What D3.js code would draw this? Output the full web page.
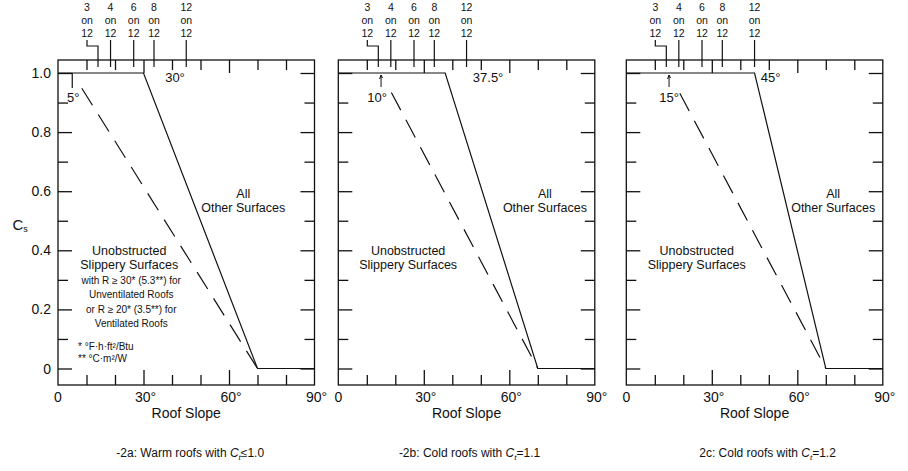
<!DOCTYPE html>
<html>
<head>
<meta charset="utf-8">
<script src="https://cdn.jsdelivr.net/npm/d3@7"></script>
<style>
body { margin: 0; background: #fff; }
text { font-family: "Liberation Sans", Arial, sans-serif; fill: #111; }
</style>
</head>
<body>
<svg id="chart" width="908" height="471"></svg>
<script>
// chart data
const panelIds = ["2a", "2b", "2c"];
const solidBreak = [30, 37.5, 45];        // Cs = 1.0 up to this slope, all other surfaces
const dashedBreak = [5, 15, 15];          // start of the slippery-surface dashed line
const dashedLabel = ["5°", "10°", "15°"];
const breakLabel = ["30°", "37.5°", "45°"];
const zeroSlope = 70;                     // Cs reaches 0 here
const captionText = ["-2a: Warm roofs with ", "-2b: Cold roofs with ", "2c: Cold roofs with "];
const ctText = ["≤1.0", "=1.1", "=1.2"];
const pitchRise = [3, 4, 6, 8, 12];       // "x on 12" pitches on the top axis
const yTickLabels = [0, 0.2, 0.4, 0.6, 0.8, 1.0];
const xTickLabels = [0, 30, 60, 90];
const slipperyNotes = ["with R ≥ 30* (5.3**) for", "Unventilated Roofs", "or R ≥ 20* (3.5**) for", "Ventilated Roofs"];
const footNotes = ["* °F·h·ft²/Btu", "** °C·m²/W"];

// layout
const panelLeft = [58, 338.3, 626.3];
const panelW = 256.5, boxTop = 60, boxBottom = 385;
const breakLabelAt = [37.6, 47.2, 47.2];
const otherAt = [65, 72.5, 72.6];
const slipperyAt = [25, 24.5, 24.7];
const captionShift = [4, 3, 13];
const dashGap = [18, 22, 23];
const dashedLabelShift = [1, -4, 0];
const ink = "#111";

const svg = d3.select("#chart");
const y = d3.scaleLinear().domain([0, 1]).range([368.5, 73]);

function styleTicks(sel) {
    sel.select(".domain").remove();
    sel.selectAll("line").attr("stroke", ink).attr("stroke-width", 1.3);
}

panelIds.forEach((id, i) => {
    const x = d3.scaleLinear().domain([0, 90]).range([panelLeft[i], panelLeft[i] + panelW]);
    const g = svg.append("g").attr("class", "panel-" + id);
    const cx = (x(0) + x(90)) / 2;

    // frame
    g.append("rect")
        .attr("x", x(0)).attr("y", boxTop)
        .attr("width", panelW).attr("height", boxBottom - boxTop)
        .attr("fill", "none").attr("stroke", ink).attr("stroke-width", 1.3);

    const degTicks = d3.range(10, 90, 10);
    // top ticks
    g.append("g")
        .attr("transform", `translate(0,${boxTop})`)
        .call(d3.axisBottom(x).tickValues(degTicks).tickSize(10).tickFormat(""))
        .call(styleTicks)
        .selectAll("line").attr("y2", d => d % 30 === 0 ? 13 : 10);
    // bottom ticks
    g.append("g")
        .attr("transform", `translate(0,${boxBottom})`)
        .call(d3.axisTop(x).tickValues(degTicks).tickSize(10).tickFormat(""))
        .call(styleTicks)
        .selectAll("line").attr("y2", d => d % 30 === 0 ? -15 : -10);

    const csTicks = d3.range(0, 11).map(k => k / 10);
    const isMajor = d => Math.round(d * 10) % 2 === 0;
    g.append("g")
        .attr("transform", `translate(${x(0)},0)`)
        .call(d3.axisRight(y).tickValues(csTicks).tickSize(10).tickFormat(""))
        .call(styleTicks)
        .selectAll("line").attr("x2", d => isMajor(d) ? 14 : 10);
    g.append("g")
        .attr("transform", `translate(${x(90)},0)`)
        .call(d3.axisLeft(y).tickValues(csTicks).tickSize(10).tickFormat(""))
        .call(styleTicks)
        .selectAll("line").attr("x2", d => isMajor(d) ? -14 : -10);

    // x tick labels
    g.selectAll(".xlab")
        .data(xTickLabels)
        .join("text")
        .attr("class", "xlab")
        .attr("x", d => x(d) + (d === 0 ? 0 : 2))
        .attr("y", 402)
        .attr("text-anchor", "middle")
        .attr("font-size", 14)
        .text(d => d === 0 ? "0" : d + "°");

    g.append("text")
        .attr("x", cx).attr("y", 418)
        .attr("text-anchor", "middle")
        .attr("font-size", 14)
        .text("Roof Slope");

    // caption
    const cap = g.append("text")
        .attr("x", cx + captionShift[i]).attr("y", 457)
        .attr("text-anchor", "middle")
        .attr("font-size", 12);
    cap.append("tspan").text(captionText[i]);
    cap.append("tspan").attr("font-style", "italic").text("C");
    cap.append("tspan").attr("font-size", 8).attr("dy", 3).attr("font-style", "italic").text("t");
    cap.append("tspan").attr("dy", -3).text(ctText[i]);

    // pitch ticks on top
    pitchRise.forEach(r => {
        const a = Math.atan(r / 12) * 180 / Math.PI;
        const px = x(a);
        const lx = r === 3 ? px - 11 : px;
        g.append("path")
            .attr("d", r === 3 ? `M${lx},40V46H${px}V67` : `M${px},40V67`)
            .attr("fill", "none").attr("stroke", ink).attr("stroke-width", 1.2);
        [String(r), "on", "12"].forEach((t, k) => {
            g.append("text")
                .attr("x", lx).attr("y", 11 + k * 13)
                .attr("text-anchor", "middle")
                .attr("font-size", 10.5)
                .text(t);
        });
    });

    const line = d3.line().x(d => x(d[0])).y(d => y(d[1]));

    // all other surfaces
    g.append("path")
        .attr("d", line([[0, 1], [solidBreak[i], 1], [zeroSlope, 0], [90, 0]]))
        .attr("fill", "none").attr("stroke", ink).attr("stroke-width", 1.2);

    // unobstructed slippery surfaces
    const dashPattern = [0, dashGap[i]].concat(d3.range(12).flatMap(() => [20, 11]));
    g.append("path")
        .attr("d", line([[dashedBreak[i], 1], [zeroSlope, 0]]))
        .attr("fill", "none").attr("stroke", ink).attr("stroke-width", 1.2)
        .attr("stroke-dasharray", dashPattern.join(","));

    // start marker of the dashed line
    const mx = x(dashedBreak[i]);
    if (i === 0) {
        g.append("path").attr("d", `M${mx},${y(1)}V${y(1) + 15}`)
            .attr("stroke", ink).attr("stroke-width", 1.2);
    } else {
        g.append("path").attr("d", `M${mx},${y(1) + 14}V${y(1) + 2}M${mx - 1.5},${y(1) + 6}L${mx},${y(1) + 2}L${mx + 1.5},${y(1) + 5}`)
            .attr("fill", "none").attr("stroke", ink).attr("stroke-width", 1);
    }
    g.append("text")
        .attr("x", mx + dashedLabelShift[i]).attr("y", 101.5)
        .attr("text-anchor", "middle")
        .attr("font-size", 13)
        .text(dashedLabel[i]);

    g.append("text")
        .attr("x", x(breakLabelAt[i])).attr("y", 82)
        .attr("font-size", 13)
        .text(breakLabel[i]);

    // curve labels
    ["All", "Other Surfaces"].forEach((t, k) => {
        g.append("text")
            .attr("x", x(otherAt[i])).attr("y", 197.5 + k * 14)
            .attr("text-anchor", "middle").attr("font-size", 12.5)
            .text(t);
    });
    ["Unobstructed", "Slippery Surfaces"].forEach((t, k) => {
        g.append("text")
            .attr("x", x(slipperyAt[i])).attr("y", 255 + k * 13.5)
            .attr("text-anchor", "middle").attr("font-size", 12.5)
            .text(t);
    });

    if (i === 0) {
        // y axis labels
        g.selectAll(".ylab")
            .data(yTickLabels)
            .join("text")
            .attr("class", "ylab")
            .attr("x", x(0) - 7)
            .attr("y", d => y(d))
            .attr("dy", "0.36em")
            .attr("text-anchor", "end")
            .attr("font-size", 14)
            .text(d => d === 0 ? "0" : d3.format(".1f")(d));

        const cs = g.append("text").attr("x", 12.5).attr("y", 230).attr("font-size", 15);
        cs.append("tspan").text("C");
        cs.append("tspan").attr("font-size", 9).attr("dy", 2).text("s");

        slipperyNotes.forEach((t, k) => {
            g.append("text")
                .attr("x", x(slipperyAt[i]) + 2).attr("y", [283.5, 297.5, 313, 326.5][k])
                .attr("text-anchor", "middle").attr("font-size", 10)
                .text(t);
        });
        footNotes.forEach((t, k) => {
            g.append("text")
                .attr("x", 78).attr("y", 350 + k * 12)
                .attr("font-size", 10)
                .text(t);
        });
    }
});
</script>
</body>
</html>
